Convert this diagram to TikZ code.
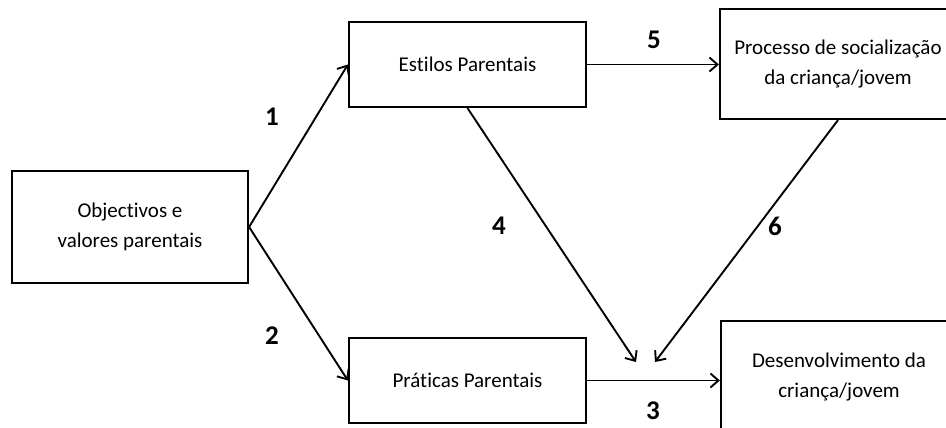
\documentclass[tikz,border=0pt]{standalone}
\usepackage{fontspec}
\setmainfont{Carlito}[Ligatures={NoCommon,NoRequired,NoContextual}]
\usetikzlibrary{arrows.meta}
\begin{document}
\begin{tikzpicture}[x=1pt,y=-1pt,
  box/.style={draw, line width=2.2pt, minimum width=#1, align=center, inner sep=0pt,
    font=\fontsize{21}{30}\selectfont},
  conn/.style={line width=1.9pt, -{Straight Barb[length=8pt,width=14pt,line width=1.9pt]}},
  num/.style={font=\fontsize{27}{30}\selectfont\bfseries, inner sep=0pt}]
\useasboundingbox (0,0) rectangle (946,428);
\clip (0,0) rectangle (946,428);
\fill[white] (0,0) rectangle (946,428);

% boxes
\node[box=236pt, minimum height=112pt] (obj) at (130,227) {Objectivos e\\valores parentais};
\node[box=237pt, minimum height=85pt] (est) at (467.5,64.5) {Estilos Parentais};
\node[box=237pt, minimum height=85pt] (pra) at (467.5,380.5) {Práticas Parentais};
\node[box=236pt, minimum height=110pt] (proc) at (838,64) {Processo de socialização\\da criança/jovem};
\node[box=236pt, minimum height=112pt] (des) at (839,377) {Desenvolvimento da\\criança/jovem};

% free ends of the two converging arrows
\coordinate (m4) at (636,362);
\coordinate (m6) at (655,362);

% connectors
\draw[conn] (obj.east) -- (est.west);
\draw[conn] (obj.east) -- (pra.west);
\draw[conn] (est.east) -- (est.east -| proc.west);
\draw[conn] (pra.east) -- (pra.east -| des.west);
\draw[conn] (est.south) -- (m4);
\draw[conn] (proc.south) -- (m6);

% labels
\node[num] (n1) at (272,117) {1};
\node[num] (n2) at (272,336) {2};
\node[num] (n3) at (653,411) {3};
\node[num] (n4) at (499,226) {4};
\node[num] (n5) at (654,40) {5};
\node[num] (n6) at (775,226) {6};
\end{tikzpicture}
\end{document}
